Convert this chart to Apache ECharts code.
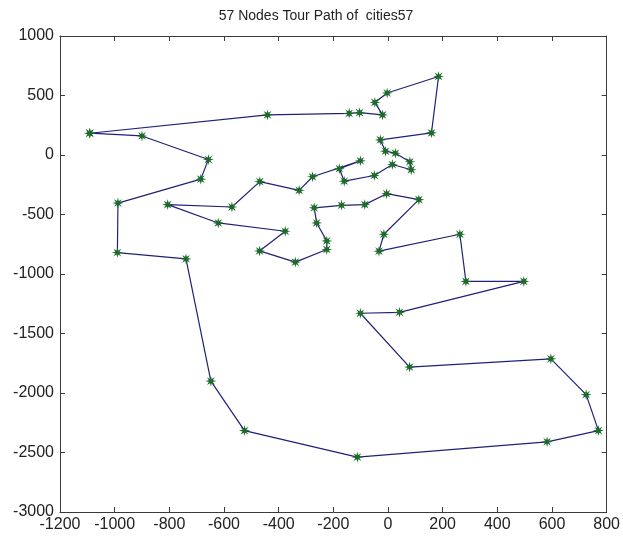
<!DOCTYPE html>
<html>
<head>
<meta charset="utf-8">
<script src="https://cdn.jsdelivr.net/npm/echarts@6/dist/echarts.min.js"></script>
<style>html,body{margin:0;padding:0;background:#fff;}#c{width:623px;height:542px;}</style>
</head>
<body>
<div id="c"></div>
<script>
// Tour order (closed: first city repeated at end)
const tourX = [-1091, -900, -657, -685, -988, -990, -739, -648, -525, -112, 582, 770, 725, 596, 79, -101, 42, 497, 285, 263, -33, -15, 113, -5, -85, -170, -270, -261, -224, -224, -339, -470, -376, -621, -806, -571, -469, -325, -276, -101, -178, -160, -50, 16, 85, 80, 27, -9, -28, 159, 185, -3, -48, -20, -104, -142, -441, -1091];
const tourY = [183, 160, -38, -203, -404, -820, -873, -1900, -2316, -2539, -2410, -2316, -2014, -1713, -1782, -1330, -1322, -1062, -1062, -666, -808, -666, -375, -325, -417, -423, -444, -571, -722, -794, -900, -806, -641, -571, -417, -437, -224, -297, -183, -49, -115, -220, -172, -80, -124, -57, 15, 32, 127, 186, 660, 521, 442, 337, 356, 350, 337, 183];
const xTicks = [-1200, 800, 200];
const yTicks = [-3000, 1000, 500];
const titleText = '57 Nodes Tour Path of  cities57';

const pts = tourX.map((x, i) => [x, tourY[i]]);
const star = 'path://M20,10L13.7,11.5L17.07,17.07L11.5,13.7L10,20L8.5,13.7L2.93,17.07L6.3,11.5L0,10L6.3,8.5L2.93,2.93L8.5,6.3L10,0L11.5,6.3L17.07,2.93L13.7,8.5Z';
const axisLine = {show: true, onZero: false, lineStyle: {color: '#3a3a3a', width: 1}};
const font = 'Liberation Sans, Arial, sans-serif';
const tickStyle = {show: true, inside: true, length: 5, lineStyle: {color: '#3a3a3a'}};
const lbl = {color: '#222', fontSize: 16, fontFamily: font, formatter: v => String(v)};

const chart = echarts.init(document.getElementById('c'), null, {renderer: 'canvas'});
chart.setOption({
  animation: false,
  backgroundColor: '#fff',
  title: {text: titleText, left: 311, top: 4, textAlign: 'center',
    textStyle: {fontSize: 14, fontWeight: 'normal', color: '#222', fontFamily: font}},
  grid: {left: 60, right: 13, top: 36, bottom: 30, containLabel: false},
  xAxis: [
    {type: 'value', min: xTicks[0], max: xTicks[1], interval: xTicks[2], position: 'bottom',
     axisLine: axisLine, axisTick: tickStyle, splitLine: {show: false},
     axisLabel: Object.assign({margin: 5}, lbl)},
    {type: 'value', min: xTicks[0], max: xTicks[1], interval: xTicks[2], position: 'top',
     axisLine: axisLine, axisTick: tickStyle, splitLine: {show: false}, axisLabel: {show: false}}
  ],
  yAxis: [
    {type: 'value', min: yTicks[0], max: yTicks[1], interval: yTicks[2], position: 'left',
     axisLine: axisLine, axisTick: tickStyle, splitLine: {show: false},
     axisLabel: Object.assign({margin: 6}, lbl)},
    {type: 'value', min: yTicks[0], max: yTicks[1], interval: yTicks[2], position: 'right',
     axisLine: axisLine, axisTick: tickStyle, splitLine: {show: false}, axisLabel: {show: false}}
  ],
  series: [{
    type: 'line',
    xAxisIndex: 0, yAxisIndex: 0,
    data: pts,
    symbol: star,
    symbolSize: 11,
    showAllSymbol: true,
    itemStyle: {color: '#1d6a2b'},
    lineStyle: {color: '#20207a', width: 1.2},
    emphasis: {disabled: true}
  }]
});
</script>
</body>
</html>
